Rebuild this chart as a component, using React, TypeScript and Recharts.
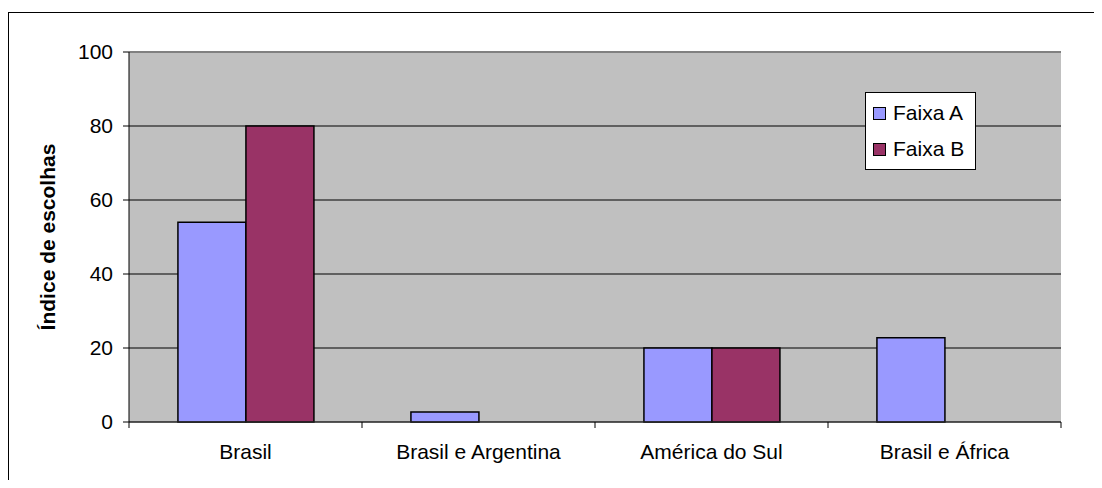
import React from "react";
import { BarChart, Bar, XAxis, YAxis, CartesianGrid, ReferenceLine } from "recharts";

const categories = ["Brasil", "Brasil e Argentina", "América do Sul", "Brasil e África"];
const faixaA = [54, 2.7, 20, 22.8];
const faixaB = [80, 0, 20, 0];
const yTicks = [0, 20, 40, 60, 80, 100];
const seriesNames = ["Faixa A", "Faixa B"];

const data = categories.map((c, i) => ({ name: c, a: faixaA[i], b: faixaB[i] }));

const FONT = "'Liberation Sans', Arial, sans-serif";
const COLOR_A = "#9999FF";
const COLOR_B = "#993366";

const XTick = (props: any) => {
  const { x, y, payload, index } = props;
  const half = payload && payload.offset ? payload.offset : 116.5;
  const axisY = y - 22;
  return (
    <g>
      <line x1={x - half} x2={x - half} y1={axisY} y2={axisY + 6} stroke="#000" />
      {index === categories.length - 1 && (
        <line x1={x + half} x2={x + half} y1={axisY} y2={axisY + 6} stroke="#000" />
      )}
      <text x={x} y={y} dy="0.71em" textAnchor="middle" fill="#000" fontSize={21} fontFamily={FONT}>
        {payload.value}
      </text>
    </g>
  );
};

const LegendBox = () => {
  const items = [
    { label: seriesNames[0], color: COLOR_A },
    { label: seriesNames[1], color: COLOR_B },
  ];
  return (
    <div
      style={{
        position: "absolute",
        left: 857,
        top: 80,
        width: 111,
        height: 78,
        boxSizing: "border-box",
        border: "1px solid #000",
        background: "#fff",
        fontFamily: FONT,
        fontSize: 21,
      }}
    >
      {items.map((it, i) => (
        <div
          key={it.label}
          style={{
            position: "absolute",
            left: 7,
            top: 20 + i * 36 - 12,
            height: 24,
            display: "flex",
            alignItems: "center",
            whiteSpace: "nowrap",
          }}
        >
          <span
            style={{
              display: "inline-block",
              width: 13,
              height: 13,
              boxSizing: "border-box",
              border: "1px solid #000",
              background: it.color,
              marginRight: 7,
            }}
          />
          <span style={{ lineHeight: "24px" }}>{it.label}</span>
        </div>
      ))}
    </div>
  );
};

const YLabel = (props: any) => {
  const { viewBox } = props;
  const cx = viewBox.x - 22;
  const cy = viewBox.y + viewBox.height / 2;
  return (
    <text
      x={cx}
      y={cy}
      transform={`rotate(-90, ${cx}, ${cy})`}
      textAnchor="middle"
      dominantBaseline="central"
      fontWeight="bold"
      fontSize={21}
      fontFamily={FONT}
      fill="#000"
    >
      Índice de escolhas
    </text>
  );
};

export default function App() {
  return (
    <div style={{ paddingTop: 4, marginBottom: -8, marginRight: -8, fontFamily: FONT }}>
      <div style={{ position: "relative", width: 1094, height: 476 }}>
        <div
          style={{
            position: "absolute",
            left: 0,
            top: 0,
            width: 1094,
            height: 476,
            borderLeft: "1px solid #000",
            borderTop: "1px solid #000",
            boxSizing: "border-box",
          }}
        />
        <div style={{ position: "absolute", left: 0, top: 0 }}>
          <BarChart
            width={1094}
            height={476}
            data={data}
            margin={{ top: 40, right: 41, bottom: 36, left: 61 }}
            barCategoryGap="21%"
            barGap={0}
          >
            <CartesianGrid vertical={false} stroke="#000" fill="#C0C0C0" fillOpacity={1} />
            <XAxis
              dataKey="name"
              height={30}
              tickLine={false}
              tickSize={6}
              tickMargin={16}
              axisLine={{ stroke: "#333" }}
              tick={<XTick />}
              interval={0}
            />
            <YAxis
              width={60}
              domain={[0, 100]}
              ticks={yTicks}
              tickSize={6}
              tickMargin={10}
              axisLine={{ stroke: "#000" }}
              tickLine={{ stroke: "#000" }}
              tick={{ fill: "#000", fontSize: 21, fontFamily: FONT }}
              label={<YLabel />}
            />
            <YAxis
              yAxisId="right"
              orientation="right"
              width={0}
              domain={[0, 100]}
              tick={false}
              tickLine={false}
              axisLine={{ stroke: "#808080", strokeWidth: 2 }}
            />
            <ReferenceLine y={100} stroke="#808080" strokeWidth={2} />
            <Bar dataKey="a" name={seriesNames[0]} fill={COLOR_A} stroke="#000" strokeWidth={1.5} isAnimationActive={false} />
            <Bar dataKey="b" name={seriesNames[1]} fill={COLOR_B} stroke="#000" strokeWidth={1.5} isAnimationActive={false} />
          </BarChart>
        </div>
        <LegendBox />
      </div>
    </div>
  );
}
